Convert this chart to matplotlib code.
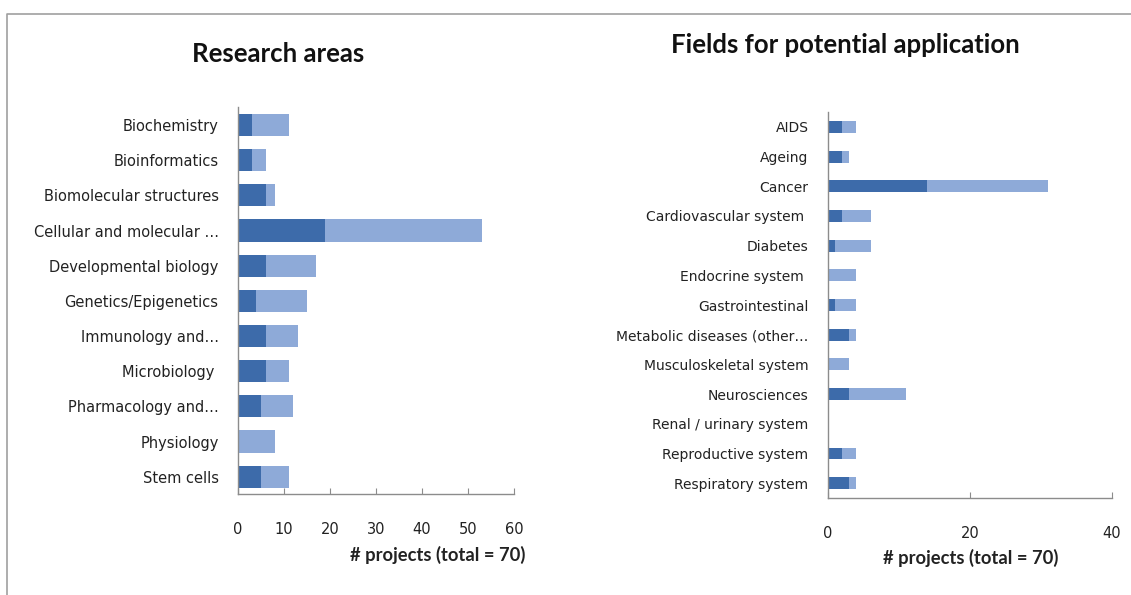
import matplotlib
matplotlib.use("Agg")
import matplotlib.pyplot as plt
from matplotlib.lines import Line2D

# Research areas (dark = first series, light = stacked remainder)
research_areas = ["Biochemistry", "Bioinformatics", "Biomolecular structures",
                  "Cellular and molecular …", "Developmental biology",
                  "Genetics/Epigenetics", "Immunology and…", "Microbiology ",
                  "Pharmacology and…", "Physiology", "Stem cells"]
research_dark = [3, 3, 6, 19, 6, 4, 6, 6, 5, 0, 5]
research_light = [8, 3, 2, 34, 11, 11, 7, 5, 7, 8, 6]

# Fields for potential application
fields = ["AIDS", "Ageing", "Cancer", "Cardiovascular system ", "Diabetes",
          "Endocrine system ", "Gastrointestinal", "Metabolic diseases (other…",
          "Musculoskeletal system", "Neurosciences", "Renal / urinary system",
          "Reproductive system", "Respiratory system"]
fields_dark = [2, 2, 14, 2, 1, 0, 1, 3, 0, 3, 0, 2, 3]
fields_light = [2, 1, 17, 4, 5, 4, 3, 1, 3, 8, 0, 2, 1]

DARK = "#3d6baa"
LIGHT = "#8eaad8"
AXIS = "#8c8c8c"


def stacked_barh(ax, labels, dark, light, height, xmax, xticks, ysize, xsize):
    y = list(range(len(labels)))
    ax.barh(y, dark, height=height, color=DARK, linewidth=0)
    ax.barh(y, light, left=dark, height=height, color=LIGHT, linewidth=0)
    ax.set_ylim(len(labels) - 0.5, -0.5)
    ax.set_xlim(0, xmax)
    ax.set_yticks(y)
    ax.set_yticklabels(labels, fontsize=ysize, color="#222222")
    ax.set_xticks(xticks)
    ax.set_xticklabels([str(t) for t in xticks], fontsize=xsize, color="#222222")
    ax.tick_params(axis="y", length=0, pad=14)
    ax.tick_params(axis="x", direction="in", length=4, color=AXIS, pad=20)
    for side in ("top", "right"):
        ax.spines[side].set_visible(False)
    for side in ("left", "bottom"):
        ax.spines[side].set_color(AXIS)
        ax.spines[side].set_linewidth(1.0)


fig = plt.figure(figsize=(11.31, 5.95), dpi=100)

ax1 = fig.add_axes([0.2104, 0.1692, 0.2440, 0.6503])
stacked_barh(ax1, research_areas, research_dark, research_light, 0.63, 60,
             [0, 10, 20, 30, 40, 50, 60], 10.5, 10.5)

ax2 = fig.add_axes([0.7321, 0.1630, 0.2511, 0.6487])
stacked_barh(ax2, fields, fields_dark, fields_light, 0.40, 40, [0, 20, 40],
             10, 10.5)

title_font = dict(family="Lato", fontweight="bold", fontsize=18.5, color="#111111")
fig.text(278 / 1131, 1 - 54 / 595, "Research areas", ha="center", va="center",
         **title_font)
fig.text(845 / 1131, 1 - 45 / 595, "Fields for potential application",
         ha="center", va="center", **title_font)

label_font = dict(family="Lato", fontweight="bold", fontsize=13.2, color="#222222")
fig.text(438 / 1131, 1 - 555 / 595, "# projects (total = 70)", ha="center",
         va="center", **label_font)
fig.text(971 / 1131, 1 - 558 / 595, "# projects (total = 70)", ha="center",
         va="center", **label_font)

# outer frame (top and left edge)
fig.add_artist(Line2D([7 / 1131, 7 / 1131, 1], [0, 1 - 14 / 595, 1 - 14 / 595],
                      transform=fig.transFigure, color="#a0a0a0", linewidth=1.2))

fig.savefig("out.png", dpi=100)
